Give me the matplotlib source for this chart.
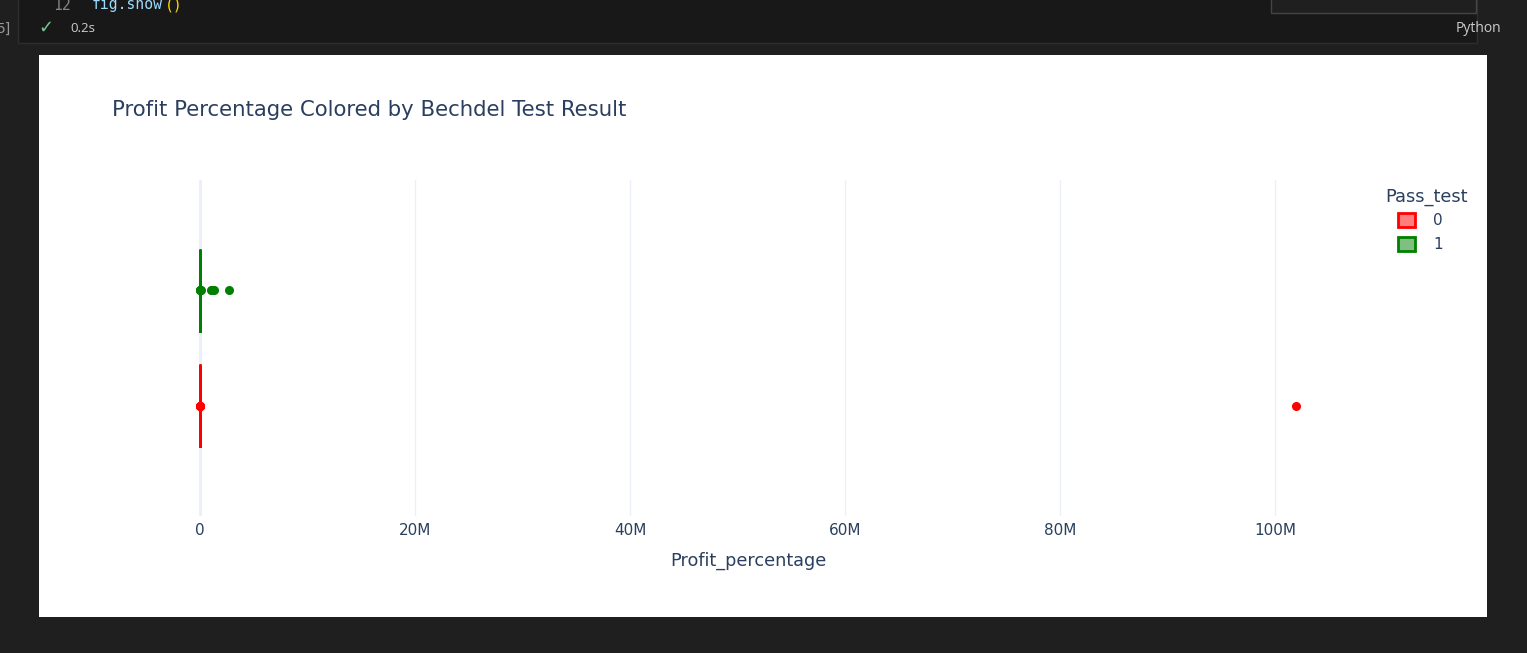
import matplotlib
matplotlib.use("Agg")
from matplotlib import pyplot as plt
from matplotlib.patches import Rectangle, Patch
from matplotlib.ticker import FuncFormatter

# box plot summary per Pass_test group (profit percentage)
pass_test = ["0", "1"]
box_colors = ["#ff0000", "#008000"]
q1 = [35, 60]
medians = [140, 190]
q3 = [420, 480]
whisker_lo = [-100, -100]
whisker_hi = [1000, 1100]
outliers = [
    [1500, 4000, 12000, 30000, 101950000],
    [1400, 3500, 9000, 60000, 1020000, 1150000, 1300000, 2670000],
]

x_ticks = [0, 20e6, 40e6, 60e6, 80e6, 100e6]

W, H = 1527, 653
fig = plt.figure(figsize=(W / 100, H / 100), dpi=100)
fig.patch.set_facecolor("#1f1f1f")


def px(x, y):
    # pixel position (top-left origin) -> figure fraction
    return x / W, 1 - y / H


def rect(x0, y0, x1, y1, **kw):
    fx, fy = px(x0, y1)
    fig.patches.append(Rectangle((fx, fy), (x1 - x0) / W, (y1 - y0) / H,
                                 transform=fig.transFigure, figure=fig, zorder=-5, **kw))


# notebook chrome
rect(18, -5, 1477, 43, facecolor="#181818", edgecolor="#2e2e2e", lw=1)
rect(1271, -5, 1476, 13, facecolor="#1f1f1f", edgecolor="#454545", lw=1)
mono = "DejaVu Sans Mono"
fig.text(*px(53, 5), "12", color="#858585", fontsize=10.6, va="center", family=mono)
fig.text(*px(92, 5), "fig.show", color="#9cdcfe", fontsize=10.6, va="center", family=mono)
fig.text(*px(165, 5), "()", color="#ffd700", fontsize=10.6, va="center", family=mono)
fig.text(*px(-3, 29), "5]", color="#9a9a9a", fontsize=10, va="center", family="DejaVu Sans")
fig.text(*px(38, 28), "\u2713", color="#73c991", fontsize=13, va="center", family="DejaVu Sans")
fig.text(*px(70, 29), "0.2s", color="#cccccc", fontsize=9.5, va="center", family="Open Sans")
fig.text(*px(1501, 29), "Python", color="#cccccc", fontsize=10, va="center", ha="right", family="Open Sans")

# plotly figure area
rect(39, 55, 1487, 617, facecolor="white", edgecolor="none")

ax_l, ax_r, ax_t, ax_b = 119, 1378, 180, 516
ax = fig.add_axes([ax_l / W, 1 - ax_b / H, (ax_r - ax_l) / W, (ax_b - ax_t) / H])
ax.set_facecolor("white")

stats = []
for i in range(len(pass_test)):
    stats.append({"label": pass_test[i], "q1": q1[i], "med": medians[i], "q3": q3[i],
                  "whislo": whisker_lo[i], "whishi": whisker_hi[i], "fliers": outliers[i]})

for i, st in enumerate(stats):
    c = box_colors[i]
    ax.bxp([st], positions=[i], widths=0.70, orientation="horizontal", showcaps=False,
           boxprops=dict(color=c, lw=2), medianprops=dict(color=c, lw=2),
           whiskerprops=dict(color=c, lw=2),
           flierprops=dict(marker="o", markerfacecolor=c, markeredgecolor=c, markersize=5.5))

ax.set_ylim(-0.95, 1.95)
ax.set_xlim(-7.53e6, 109.58e6)
ax.set_xticks(x_ticks)
ax.xaxis.set_major_formatter(FuncFormatter(lambda v, p: "0" if v == 0 else f"{v / 1e6:.0f}M"))
ax.set_yticks([])
ax.grid(axis="x", color="#ebf0f8", lw=1)
ax.axvline(0, color="#ebf0f8", lw=2, zorder=0.5)
ax.set_axisbelow(True)
for s in ax.spines.values():
    s.set_visible(False)
ax.tick_params(axis="x", length=0, pad=5, labelsize=11, labelcolor="#2a3f5f")
for t in ax.get_xticklabels():
    t.set_family("DejaVu Sans")
ax.set_xlabel("Profit_percentage", fontsize=12.7, color="#2a3f5f", labelpad=10, family="DejaVu Sans")

fig.text(*px(112, 110), "Profit Percentage Colored by Bechdel Test Result", fontsize=15.3,
         color="#2a3f5f", va="center", family="DejaVu Sans")

# legend: title placed on its own, plotly indents the items under it
fig.text(*px(1385, 197), "Pass_test", fontsize=12.8, color="#2a3f5f", va="center",
         family="DejaVu Sans")
handles = [Patch(facecolor=matplotlib.colors.to_rgba(c, 0.5), edgecolor=c, lw=2) for c in box_colors]
leg = fig.legend(handles, pass_test, loc="upper left",
                 bbox_to_anchor=px(1384, 199), frameon=False, fontsize=11,
                 handlelength=1.1, handleheight=1.1,
                 handletextpad=1.2, labelspacing=0.54)
for t in leg.get_texts():
    t.set_color("#2a3f5f")

plt.savefig("out.png", dpi=100, facecolor=fig.get_facecolor())
